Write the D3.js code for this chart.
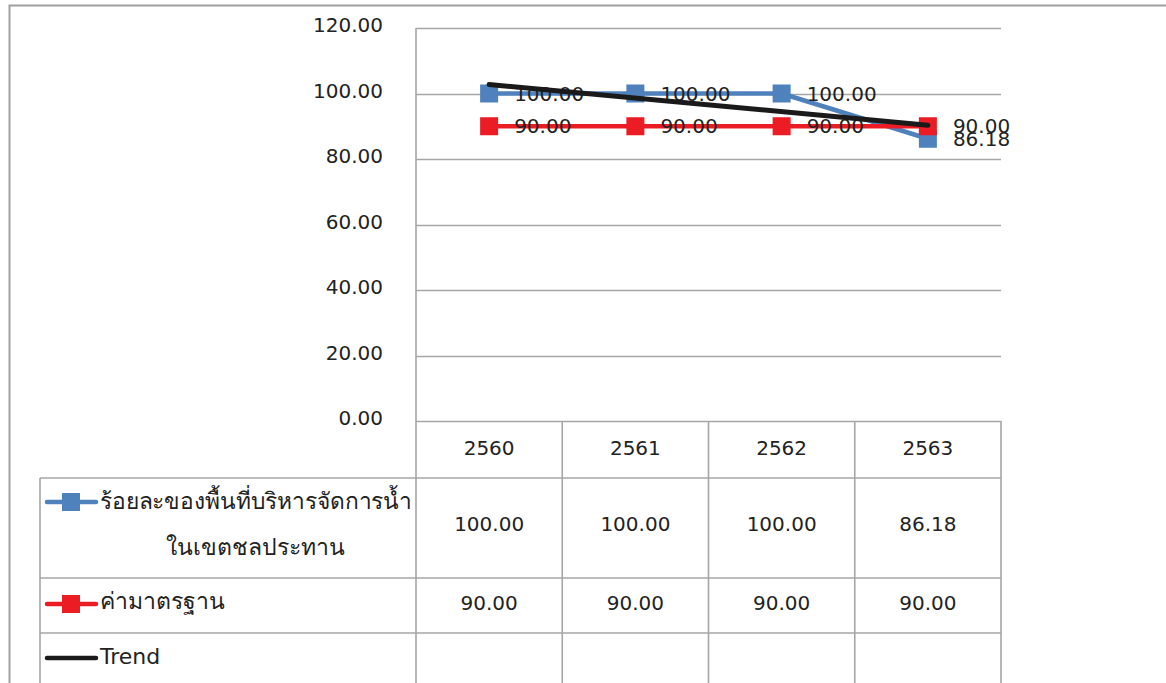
<!DOCTYPE html>
<html>
<head>
<meta charset="utf-8">
<script src="https://cdn.jsdelivr.net/npm/d3@7"></script>
<style>
  html, body { margin: 0; padding: 0; background: #fff; }
  svg { display: block; }
  text { font-family: "DejaVu Sans", "Noto Sans", sans-serif; fill: #222; }
</style>
</head>
<body>
<svg id="chart" width="1166" height="683"></svg>
<script>
// Fiscal years (Thai Buddhist calendar)
const years = ["2560", "2561", "2562", "2563"];
// Percentage of irrigated area under water management
const irrigatedPct = [100.00, 100.00, 100.00, 86.18];
// Standard (target) value
const standardPct = [90.00, 90.00, 90.00, 90.00];
const yTicks = [0, 20, 40, 60, 80, 100, 120];
const seriesNames = ["ร้อยละของพื้นที่บริหารจัดการน้ำในเขตชลประทาน", "ค่ามาตรฐาน", "Trend"];

const svg = d3.select("#chart");
const W = 1166, H = 683;
const plotL = 416, plotR = 1001, plotT = 28, plotB = 421;
const legendL = 40;
const rowLines = [478, 578, 633];
const gridColor = "#a6a6a6";
const blue = "#4f81bd", red = "#ec1c24", black = "#1a1a1a";
const fmt = d3.format(".2f");

const x = d3.scaleBand().domain(years).range([plotL, plotR]).padding(0);
const y = d3.scaleLinear().domain([0, 120]).range([plotB, plotT]);
const cx = d => x(d) + x.bandwidth() / 2;

// chart frame
svg.append("path")
  .attr("d", `M9.5,${H} V5.5 H${W}`)
  .attr("fill", "none").attr("stroke", "#a0a0a0").attr("stroke-width", 2);

// horizontal gridlines + value axis labels
svg.append("g").selectAll("line").data(yTicks).join("line")
  .attr("x1", plotL).attr("x2", plotR)
  .attr("y1", d => Math.round(y(d)) + 0.5).attr("y2", d => Math.round(y(d)) + 0.5)
  .attr("stroke", gridColor).attr("stroke-width", 1.3);

svg.append("g").selectAll("text").data(yTicks).join("text")
  .attr("x", 383).attr("y", d => y(d) - 3).attr("dy", "0.35em")
  .attr("text-anchor", "end").attr("font-size", 20)
  .text(d => fmt(d));

// data table grid
const tbl = svg.append("g").attr("stroke", gridColor).attr("stroke-width", 1.6).attr("fill", "none");
tbl.append("line").attr("x1", plotL).attr("x2", plotL).attr("y1", plotT).attr("y2", H);
x.domain().forEach(d => {
  tbl.append("line").attr("x1", x(d) + x.bandwidth()).attr("x2", x(d) + x.bandwidth())
    .attr("y1", plotB).attr("y2", H);
});
tbl.append("line").attr("x1", legendL).attr("x2", legendL).attr("y1", rowLines[0]).attr("y2", H);
rowLines.forEach(r => {
  tbl.append("line").attr("x1", legendL).attr("x2", plotR).attr("y1", r).attr("y2", r);
});

// table: category header
svg.append("g").selectAll("text").data(years).join("text")
  .attr("x", d => cx(d)).attr("y", (plotB + rowLines[0]) / 2 - 2).attr("dy", "0.35em")
  .attr("text-anchor", "middle").attr("font-size", 20).text(d => d);

// table: values
const rowCenters = [(rowLines[0] + rowLines[1]) / 2 - 4, (rowLines[1] + rowLines[2]) / 2 - 3];
[irrigatedPct, standardPct].forEach((vals, i) => {
  svg.append("g").selectAll("text").data(vals).join("text")
    .attr("x", (d, j) => cx(years[j])).attr("y", rowCenters[i]).attr("dy", "0.35em")
    .attr("text-anchor", "middle").attr("font-size", 20).text(d => fmt(d));
});

// table: legend keys
function legendKey(g, yy, color, marker) {
  g.append("line").attr("x1", 47).attr("x2", 96).attr("y1", yy).attr("y2", yy)
    .attr("stroke", color).attr("stroke-width", 4.5).attr("stroke-linecap", "round");
  if (marker) {
    g.append("rect").attr("x", 62).attr("y", yy - 9).attr("width", 18).attr("height", 18).attr("fill", color);
  }
}
const lg = svg.append("g");
legendKey(lg, 502, blue, true);
legendKey(lg, 604, red, true);
legendKey(lg, 658, black, false);
lg.append("text").attr("x", 100).attr("y", 501).attr("dy", "0.35em")
  .attr("font-size", 23).attr("textLength", 312).attr("lengthAdjust", "spacingAndGlyphs")
  .text("ร้อยละของพื้นที่บริหารจัดการน้ำ");
lg.append("text").attr("x", 255).attr("y", 547).attr("dy", "0.35em")
  .attr("text-anchor", "middle").attr("font-size", 23).text("ในเขตชลประทาน");
lg.append("text").attr("x", 100).attr("y", 601).attr("dy", "0.35em")
  .attr("font-size", 23).text(seriesNames[1]);
lg.append("text").attr("x", 100).attr("y", 656).attr("dy", "0.35em")
  .attr("font-size", 22).text(seriesNames[2]);

// series lines + markers
const line = d3.line().x((d, i) => cx(years[i])).y(d => y(d));
function drawSeries(vals, color) {
  const g = svg.append("g");
  g.append("path").datum(vals).attr("d", line)
    .attr("fill", "none").attr("stroke", color).attr("stroke-width", 4.5).attr("stroke-linejoin", "round");
  g.selectAll("rect").data(vals).join("rect")
    .attr("x", (d, i) => cx(years[i]) - 9).attr("y", d => y(d) - 9)
    .attr("width", 18).attr("height", 18).attr("fill", color);
}
drawSeries(irrigatedPct, blue);
drawSeries(standardPct, red);

// data labels to the right of each point
[irrigatedPct, standardPct].forEach(vals => {
  svg.append("g").selectAll("text").data(vals).join("text")
    .attr("x", (d, i) => cx(years[i]) + 25).attr("y", d => y(d)).attr("dy", "0.35em")
    .attr("font-size", 20).text(d => fmt(d));
});

// linear trend of the irrigated-area series (least squares)
const xs = irrigatedPct.map((d, i) => i + 1);
const mx = d3.mean(xs), my = d3.mean(irrigatedPct);
const slope = d3.sum(xs, (xi, i) => (xi - mx) * (irrigatedPct[i] - my)) / d3.sum(xs, xi => (xi - mx) ** 2);
const trend = xs.map(xi => my + slope * (xi - mx));
svg.append("path").datum([trend[0], trend[trend.length - 1]])
  .attr("d", d3.line().x((d, i) => cx(years[i === 0 ? 0 : years.length - 1])).y(d => y(d)))
  .attr("fill", "none").attr("stroke", black).attr("stroke-width", 5).attr("stroke-linecap", "round");
</script>
</body>
</html>
